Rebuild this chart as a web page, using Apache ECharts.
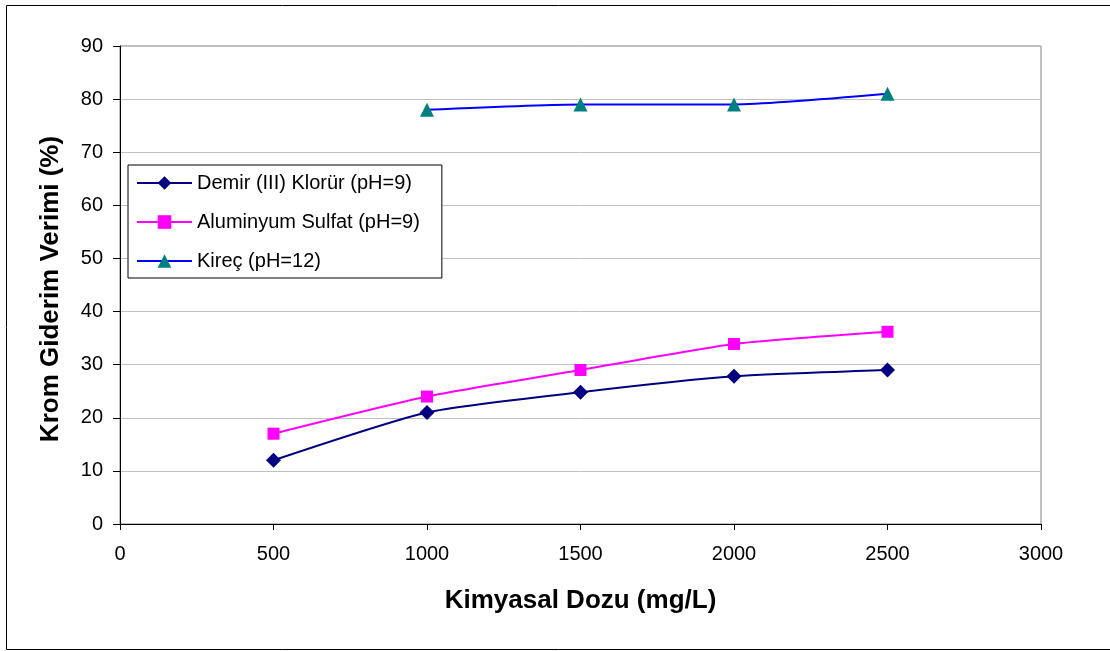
<!DOCTYPE html>
<html>
<head>
<meta charset="utf-8">
<script src="https://cdn.jsdelivr.net/npm/echarts@6/dist/echarts.min.js"></script>
<style>
html, body { margin: 0; padding: 0; background: #fff; }
#chart { width: 1110px; height: 651px; }
</style>
</head>
<body>
<div id="chart"></div>
<script>
// Chemical dose (mg/L) and chromium removal efficiency (%)
const dozDemir = [500, 1000, 1500, 2000, 2500];
const verimDemir = [12, 21, 24.8, 27.8, 29];
const dozAlum = [500, 1000, 1500, 2000, 2500];
const verimAlum = [17, 24, 29, 33.9, 36.2];
const dozKirec = [1000, 1500, 2000, 2500];
const verimKirec = [78, 79, 79, 81];
const seriesNames = ['Demir (III) Klorür (pH=9)', 'Aluminyum Sulfat (pH=9)', 'Kireç (pH=12)'];

const pairs = (xs, ys) => xs.map((x, i) => [x, ys[i]]);
const font = 'Liberation Sans, Arial, sans-serif';

const chart = echarts.init(document.getElementById('chart'), null, { renderer: 'canvas' });
chart.setOption({
  animation: false,
  backgroundColor: '#fff',
  graphic: [{
    type: 'rect',
    shape: { x: 6.5, y: 5.5, width: 1110, height: 644 },
    style: { fill: 'none', stroke: '#000', lineWidth: 1 },
    silent: true
  }],
  grid: { left: 120, right: 69, top: 46, bottom: 127, show: true, borderColor: '#808080', borderWidth: 1 },
  legend: {
    orient: 'vertical',
    left: 128, top: 165,
    padding: [8, 22, 7, 8],
    itemGap: 19,
    itemWidth: 55, itemHeight: 17,
    borderColor: '#000', borderWidth: 1,
    backgroundColor: '#fff',
    textStyle: { fontFamily: font, fontSize: 20, color: '#000' },
    data: seriesNames
  },
  xAxis: {
    type: 'value', min: 0, max: 3000, interval: 500,
    name: 'Kimyasal Dozu (mg/L)', nameLocation: 'middle', nameGap: 64,
    nameTextStyle: { fontFamily: font, fontSize: 26, fontWeight: 'bold', color: '#000' },
    axisLine: { show: true, lineStyle: { color: '#000', width: 1 } },
    axisTick: { show: true, length: 6, lineStyle: { color: '#000' } },
    axisLabel: { fontFamily: font, fontSize: 20, color: '#000', margin: 20, formatter: v => String(v) },
    splitLine: { show: false }
  },
  yAxis: {
    type: 'value', min: 0, max: 90, interval: 10,
    name: 'Krom Giderim Verimi (%)', nameLocation: 'middle', nameGap: 56,
    nameTextStyle: { fontFamily: font, fontSize: 26, fontWeight: 'bold', color: '#000', padding: [0, 8, 0, 0] },
    axisLine: { show: true, lineStyle: { color: '#000', width: 1 } },
    axisTick: { show: true, length: 7, lineStyle: { color: '#000' } },
    axisLabel: { fontFamily: font, fontSize: 20, color: '#000', margin: 17 },
    splitLine: { show: true, lineStyle: { color: '#c0c0c0', width: 1 } }
  },
  series: [
    {
      name: seriesNames[0], type: 'line', smooth: 0.2,
      data: pairs(dozDemir, verimDemir),
      symbol: 'diamond', symbolSize: 15,
      lineStyle: { color: '#000080', width: 2 },
      itemStyle: { color: '#000080' }
    },
    {
      name: seriesNames[1], type: 'line', smooth: 0.2,
      data: pairs(dozAlum, verimAlum),
      symbol: 'rect', symbolSize: 12,
      lineStyle: { color: '#ff00ff', width: 2 },
      itemStyle: { color: '#ff00ff' }
    },
    {
      name: seriesNames[2], type: 'line', smooth: 0.2,
      data: pairs(dozKirec, verimKirec),
      symbol: 'triangle', symbolSize: 14,
      lineStyle: { color: '#0000ff', width: 2 },
      itemStyle: { color: '#008080' }
    }
  ]
});
</script>
</body>
</html>
